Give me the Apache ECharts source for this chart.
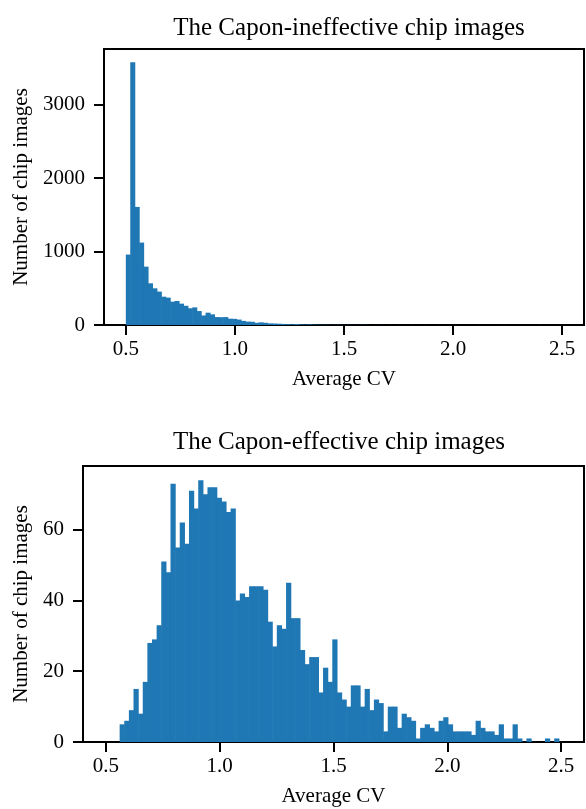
<!DOCTYPE html>
<html>
<head>
<meta charset="utf-8">
<script src="https://cdn.jsdelivr.net/npm/echarts@6/dist/echarts.min.js"></script>
<style>
html,body{margin:0;padding:0;background:#fff;}
#chart{width:586px;height:809px;}
</style>
</head>
<body>
<div id="chart"></div>
<script>
// ---- data ----
const binStart = 0.5;
const binWidth = 0.0203;
const ineffectiveCounts = [
  960, 3582, 1609, 1123, 795, 568, 500, 455, 386, 373,
  318, 327, 291, 262, 228, 240, 190, 130, 168, 145,
  108, 106, 108, 86, 84, 74, 56, 46, 44, 30,
  36, 30, 22, 20, 18, 15, 12, 10, 14, 8,
  6, 8, 5, 4, 3, 3, 2, 3, 2, 1,
  2, 1, 1, 2, 1, 0, 1, 1, 0, 1,
  0, 1, 0, 0, 1, 0, 0, 1, 0, 0,
  1, 0, 0, 0, 1, 0, 0, 0, 0, 1,
  0, 0, 0, 0, 0, 1, 0, 0, 0, 0,
  0, 0, 0, 1, 0, 0, 0, 0, 1
];
const effectiveCounts = [
  0, 0, 0, 5, 6, 9, 15, 8, 17, 28,
  29, 33, 51, 48, 73, 55, 62, 56, 71, 66,
  74, 70, 72, 72, 69, 68, 65, 66, 40, 42,
  41, 44, 44, 44, 43, 34, 27, 33, 32, 45,
  35, 35, 26, 22, 24, 24, 14, 21, 17, 29,
  14, 12, 10, 16, 16, 10, 15, 9, 12, 11,
  3, 10, 10, 4, 8, 7, 6, 1, 4, 5,
  4, 3, 6, 7, 5, 3, 3, 3, 3, 2,
  6, 4, 3, 3, 2, 5, 1, 1, 5, 1,
  0, 1, 0, 0, 0, 1, 0, 1, 0
];
const xTicks = [0.5, 1.0, 1.5, 2.0, 2.5];
const yTicksTop = [0, 1000, 2000, 3000];
const yTicksBottom = [0, 20, 40, 60];
const titles = ['The Capon-ineffective chip images', 'The Capon-effective chip images'];
const xName = 'Average CV';
const yName = 'Number of chip images';

// ---- build histogram rows [left edge, right edge, count] ----
function toRows(counts) {
  return counts.map((c, i) => [binStart + i * binWidth, binStart + (i + 1) * binWidth, c]);
}

const FONT = '"Liberation Serif", "Times New Roman", serif';
const BAR = '#1f77b4';

function renderItem(params, api) {
  if (!api.value(2)) return null;
  const p0 = api.coord([api.value(0), api.value(2)]);
  const p1 = api.coord([api.value(1), 0]);
  return {
    type: 'rect',
    shape: { x: p0[0], y: p0[1], width: p1[0] - p0[0] + 0.6, height: p1[1] - p0[1] },
    style: { fill: BAR }
  };
}

function xAxis(gridIndex) {
  return {
    type: 'value', gridIndex, min: 0.4, max: 2.6,
    name: xName, nameLocation: 'middle', nameGap: 44,
    nameTextStyle: { fontFamily: FONT, fontSize: 21, color: '#000' },
    axisLine: { show: true, lineStyle: { color: '#000', width: 2 } },
    axisTick: { show: true, inside: false, length: 10, customValues: xTicks, lineStyle: { color: '#000', width: 2 } },
    axisLabel: { show: true, margin: 14, customValues: xTicks, fontFamily: FONT, fontSize: 21, color: '#000',
      formatter: v => v.toFixed(1) },
    splitLine: { show: false }
  };
}
function yAxis(gridIndex, max, ticks, gap) {
  return {
    type: 'value', gridIndex, min: 0, max,
    name: yName, nameLocation: 'middle', nameGap: gap, nameRotate: 90,
    nameTextStyle: { fontFamily: FONT, fontSize: 21, color: '#000' },
    axisLine: { show: true, lineStyle: { color: '#000', width: 2 } },
    axisTick: { show: true, inside: false, length: 10, customValues: ticks, lineStyle: { color: '#000', width: 2 } },
    axisLabel: { show: true, margin: 19, customValues: ticks, fontFamily: FONT, fontSize: 21, color: '#000',
      formatter: v => String(v) },
    splitLine: { show: false }
  };
}

const chart = echarts.init(document.getElementById('chart'), null, { renderer: 'canvas' });
chart.setOption({
  animation: false,
  backgroundColor: '#fff',
  title: [
    { text: titles[0], left: 344, top: 11, textAlign: 'center',
      textStyle: { fontFamily: FONT, fontSize: 25, fontWeight: 'normal', color: '#000' } },
    { text: titles[1], left: 334, top: 425, textAlign: 'center',
      textStyle: { fontFamily: FONT, fontSize: 25, fontWeight: 'normal', color: '#000' } }
  ],
  grid: [
    { left: 104, top: 49, width: 480, height: 276, show: true, borderColor: '#000', borderWidth: 2, backgroundColor: 'transparent' },
    { left: 83, top: 466, width: 501, height: 276, show: true, borderColor: '#000', borderWidth: 2, backgroundColor: 'transparent' }
  ],
  xAxis: [xAxis(0), xAxis(1)],
  yAxis: [yAxis(0, 3761, yTicksTop, 68), yAxis(1, 78, yTicksBottom, 50)],
  series: [
    { type: 'custom', xAxisIndex: 0, yAxisIndex: 0, data: toRows(ineffectiveCounts),
      encode: { x: [0, 1], y: 2 }, renderItem, clip: true, z: 1 },
    { type: 'custom', xAxisIndex: 1, yAxisIndex: 1, data: toRows(effectiveCounts),
      encode: { x: [0, 1], y: 2 }, renderItem, clip: true, z: 1 }
  ]
});
</script>
</body>
</html>
